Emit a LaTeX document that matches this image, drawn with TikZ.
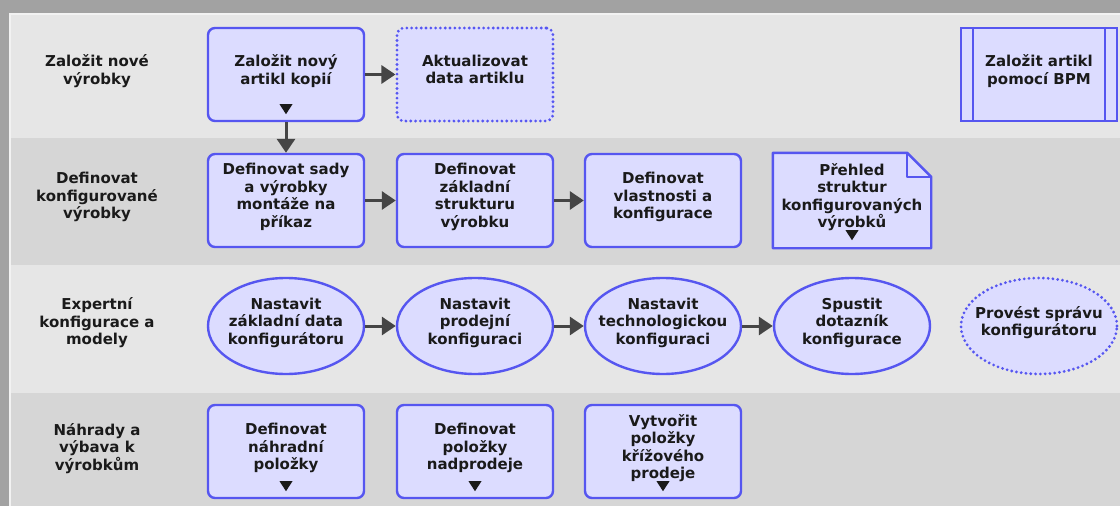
\documentclass[tikz,border=0pt]{standalone}
\usepackage{fontspec}
\setmainfont{DejaVu Sans}
\usepackage{xcolor}
\usepackage{tikz}
\usetikzlibrary{calc,arrows.meta,shapes.geometric}
\definecolor{frame}{HTML}{A2A2A2}
\definecolor{edge}{HTML}{F2F2F2}
\definecolor{laneA}{HTML}{E6E6E6}
\definecolor{laneB}{HTML}{D6D6D6}
\definecolor{boxfill}{HTML}{DCDCFF}
\definecolor{boxline}{HTML}{5656F0}
\definecolor{ink}{HTML}{1A1A1A}
\definecolor{flowc}{HTML}{454545}
\tikzset{
  txt/.style={text=ink, font=\bfseries\fontsize{15}{17.5}\selectfont, align=center},
  lanelab/.style={txt, text depth=10pt},
  task/.style={txt, draw=boxline, fill=boxfill, line width=2.4pt, rounded corners=7pt,
    minimum width=156pt, minimum height=93pt, inner sep=2pt, text depth=10pt},
  optask/.style={task, line width=3.1pt, line cap=round, dash pattern=on 0pt off 4.8pt},
  subtask/.style={task, rounded corners=0pt},
  doctask/.style={task, rounded corners=0pt, draw=none},
  setup/.style={txt, ellipse, draw=boxline, fill=boxfill, line width=2.4pt,
    minimum width=156pt, minimum height=96pt, inner xsep=-18pt, inner ysep=-4pt, text depth=10pt},
  opsetup/.style={setup, line width=3.1pt, line cap=round, dash pattern=on 0pt off 4.8pt},
  flow/.style={draw=flowc, line width=3pt, -{Triangle[length=14pt,width=18pt]}},
  flag/.style={fill=ink},
}
% small down triangle at the foot of a task
\newcommand{\subflag}[1]{%
  \fill[flag] ($(#1.south)+(-6.5,-18)$) -- ($(#1.south)+(6.5,-18)$) -- ($(#1.south)+(0,-8)$) -- cycle;}

\begin{document}
\begin{tikzpicture}[x=1pt, y=-1pt]
  \useasboundingbox (0,0) rectangle (1120,506);
  % frame and lanes
  \fill[frame] (0,0) rectangle (1120,506);
  \fill[laneA] (9,13) rectangle (1120,138);
  \fill[laneB] (9,138) rectangle (1120,265);
  \fill[laneA] (9,265) rectangle (1120,393);
  \fill[laneB] (9,393) rectangle (1120,506);
  \fill[edge] (9,13) rectangle (11,506);
  \fill[edge] (11,13) rectangle (1120,14.5);

  % lane titles
  \node[lanelab] (l1) at (97,74.5) {Založit nové\\výrobky};
  \node[lanelab] (l2) at (97,200.5) {Definovat\\konfigurované\\výrobky};
  \node[lanelab] (l3) at (97,326) {Expertní\\konfigurace a\\modely};
  \node[lanelab] (l4) at (97,451.5) {Náhrady a\\výbava k\\výrobkům};

  % lane 1
  \node[task] (kopie) at (286,74.5) {Založit nový\\artikl kopií};
  \node[optask] (aktual) at (475,74.5) {Aktualizovat\\data artiklu};
  \node[subtask] (bpm) at (1039,74.5) {Založit artikl\\pomocí BPM};
  \draw[boxline, line width=2.4pt] ($(bpm.north west)+(13,0)$) -- ($(bpm.south west)+(13,0)$);
  \draw[boxline, line width=2.4pt] ($(bpm.north east)+(-13,0)$) -- ($(bpm.south east)+(-13,0)$);
  \subflag{kopie}

  % lane 2
  \node[task] (sady) at (286,200.5) {Definovat sady\\a výrobky\\montáže na\\příkaz};
  \node[task] (strukt) at (475,200.5) {Definovat\\základní\\strukturu\\výrobku};
  \node[task] (vlast) at (663,200.5) {Definovat\\vlastnosti a\\konfigurace};
  \node[doctask] (prehled) at (852,200.5) {Přehled\\struktur\\konfigurovaných\\výrobků};
  \fill[laneB] ($(prehled.north east)+(-24,0)$) -- ($(prehled.north east)+(2,0)$) -- ($(prehled.north east)+(2,24)$) -- cycle;
  \draw[boxline, line width=2.4pt, line join=round] (prehled.north west) -- ($(prehled.north east)+(-24,0)$)
    -- ($(prehled.north east)+(0,24)$) -- (prehled.south east) -- (prehled.south west) -- cycle;
  \draw[boxline, line width=2.4pt, line join=round] ($(prehled.north east)+(-24,0)$) -- ++(0,24) -- ++(24,0);
  \subflag{prehled}

  % lane 3
  \node[setup] (zakl) at (286,326) {Nastavit\\základní data\\konfigurátoru};
  \node[setup] (prod) at (475,326) {Nastavit\\prodejní\\konfiguraci};
  \node[setup] (tech) at (663,326) {Nastavit\\technologickou\\konfiguraci};
  \node[setup] (dotaz) at (852,326) {Spustit\\dotazník\\konfigurace};
  \node[opsetup] (sprava) at (1039,326) {Provést správu\\konfigurátoru};

  % lane 4
  \node[task] (nahr) at (286,451.5) {Definovat\\náhradní\\položky};
  \node[task] (nadpr) at (475,451.5) {Definovat\\položky\\nadprodeje};
  \node[task] (kriz) at (663,451.5) {Vytvořit\\položky\\křížového\\prodeje};
  \subflag{nahr}
  \subflag{nadpr}
  \subflag{kriz}

  % connectors
  \draw[flow] (kopie.east) -- (aktual.west);
  \draw[flow] (kopie.south) -- (sady.north);
  \draw[flow] (sady.east) -- (strukt.west);
  \draw[flow] (strukt.east) -- (vlast.west);
  \draw[flow] (zakl) -- (prod);
  \draw[flow] (prod) -- (tech);
  \draw[flow] (tech) -- (dotaz);
\end{tikzpicture}
\end{document}
